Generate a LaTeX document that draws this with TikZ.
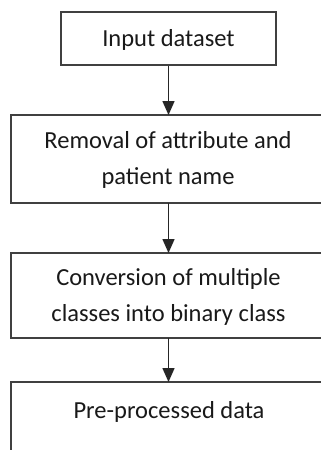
\documentclass[tikz,border=0pt]{standalone}
\usepackage{fontspec}
\setmainfont{Carlito}
\usetikzlibrary{arrows.meta}
\begin{document}
\begin{tikzpicture}[x=1pt,y=-1pt,
  box/.style={draw=black!75, line width=1.5pt, rectangle, inner sep=0pt},
  openbox/.style={rectangle, inner sep=0pt, outer sep=0pt},
  edge/.style={draw=black!75, line width=1.5pt, line cap=rect},
  lbl/.style={text=black!90, inner sep=0pt, align=center,
    font=\fontsize{24.5}{36}\selectfont},
  arr/.style={draw=black!85, line width=1.5pt, -{Triangle[width=12pt,length=14pt]}}]
\useasboundingbox (0,0) rectangle (321,450);
\node[box, minimum width=215pt, minimum height=53pt] (b1) at (168.5,38.5) {};
\node[lbl] (t1) at (168.5,40) {Input dataset};
\node[openbox, minimum width=310pt, minimum height=88pt] (b2) at (166,159) {};
\node[lbl] (t2) at (168,160) {Removal of attribute and\\patient name};
\node[openbox, minimum width=310pt, minimum height=85pt] (b3) at (166,295.5) {};
\node[lbl] (t3) at (168.5,297) {Conversion of multiple\\classes into binary class};
\node[openbox, minimum width=310pt, minimum height=68pt] (b4) at (166,416) {};
\node[lbl, anchor=base] (t4) at (169,418) {Pre-processed data};
\draw[edge] (b2.north east) -- (b2.north west) -- (b2.south west) -- (b2.south east);
\draw[edge] (b3.north east) -- (b3.north west) -- (b3.south west) -- (b3.south east);
\draw[edge] (b4.north east) -- (b4.north west) -- (b4.south west);
\draw[arr] (b1.south) -- (b2.north -| b1.south);
\draw[arr] (b2.south -| b1.south) -- (b3.north -| b1.south);
\draw[arr] (b3.south -| b1.south) -- (b4.north -| b1.south);
\end{tikzpicture}
\end{document}
